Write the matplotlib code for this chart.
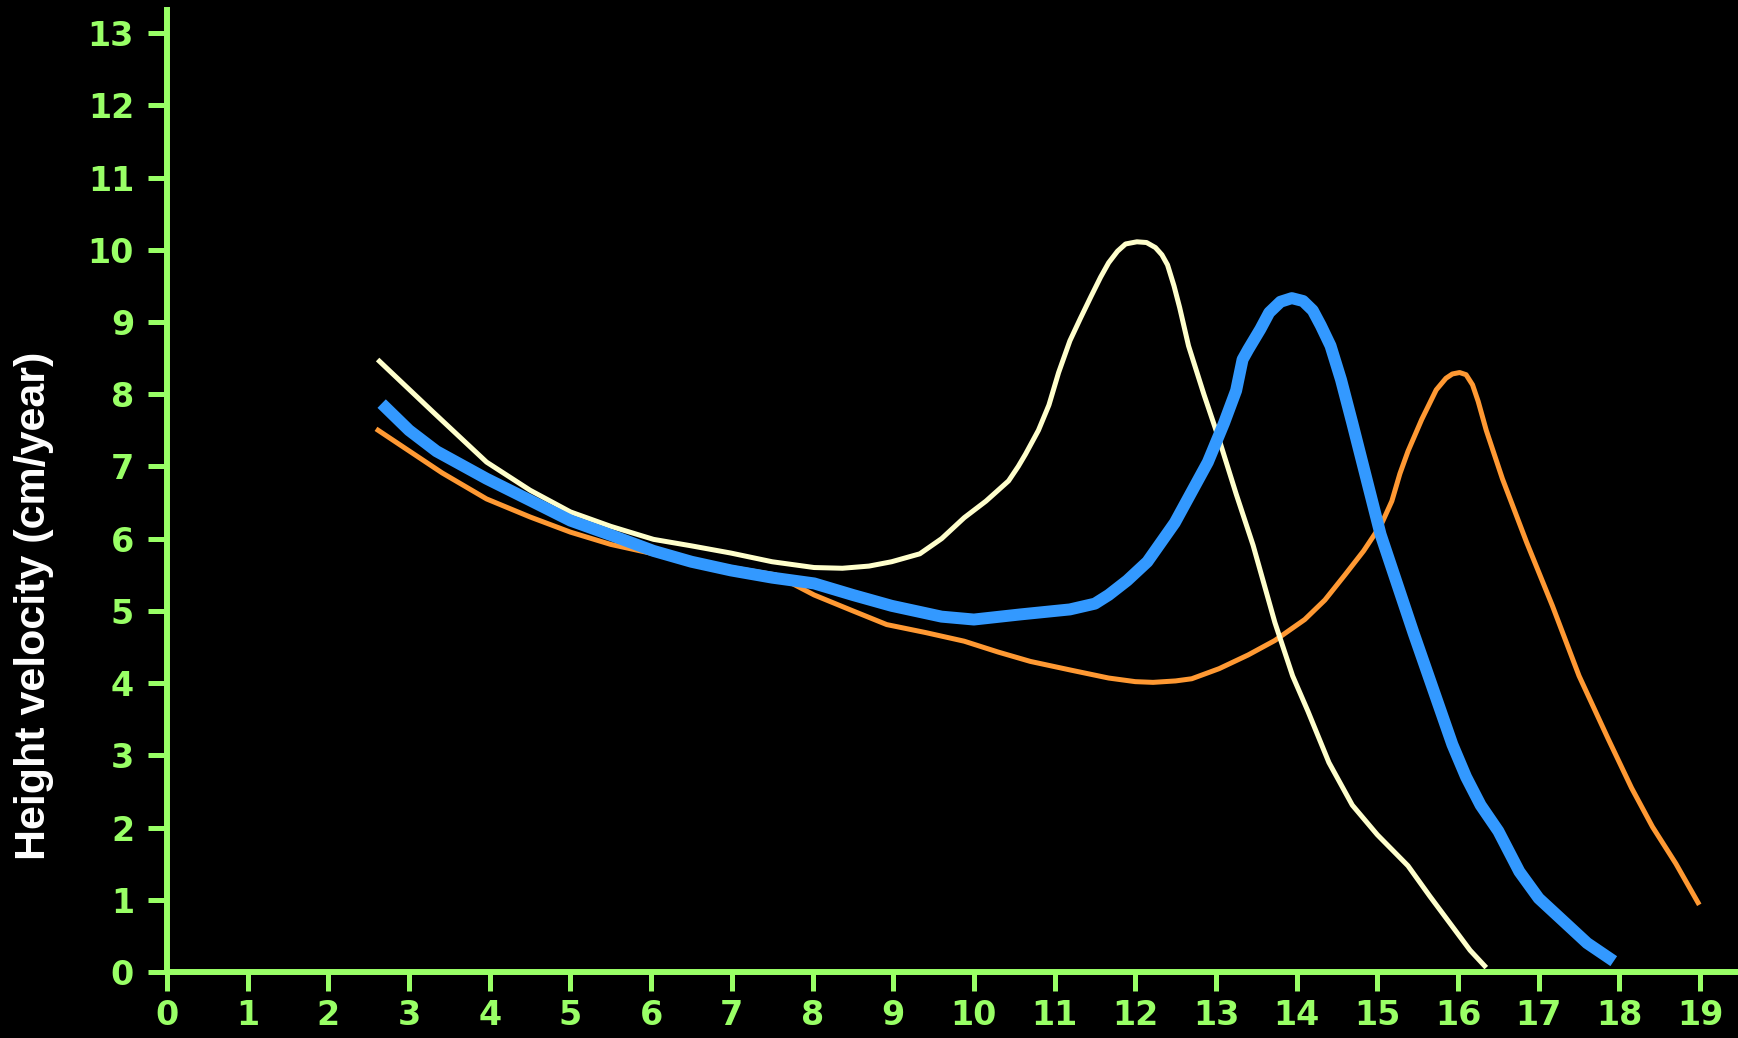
import matplotlib
matplotlib.use("Agg")
import matplotlib.pyplot as plt

# age (years) vs height velocity (cm/year)
cream_age = [2.61, 3.3, 3.96, 4.5, 5.0, 5.5, 6.03, 6.5, 6.99, 7.5, 8.02, 8.37, 8.7, 8.98, 9.33,
             9.6, 9.88, 10.15, 10.43, 10.55, 10.64, 10.8, 10.93, 11.05, 11.19, 11.32, 11.45, 11.57,
             11.67, 11.78, 11.88, 12.02, 12.14, 12.25, 12.33, 12.4, 12.48, 12.55, 12.66, 12.85,
             13.04, 13.25, 13.46, 13.73, 13.95, 14.14, 14.4, 14.69, 15.0, 15.38, 15.65, 15.93,
             16.15, 16.35]
cream_vel = [8.48, 7.75, 7.06, 6.67, 6.37, 6.17, 5.99, 5.9, 5.80, 5.68, 5.60, 5.59, 5.62, 5.68, 5.79,
             6.0, 6.29, 6.52, 6.80, 7.0, 7.17, 7.5, 7.85, 8.3, 8.74, 9.05, 9.35, 9.62,
             9.82, 9.98, 10.08, 10.11, 10.1, 10.03, 9.93, 9.79, 9.5, 9.2, 8.67, 8.0,
             7.37, 6.62, 5.91, 4.84, 4.1, 3.61, 2.9, 2.31, 1.9, 1.47, 1.05, 0.63,
             0.3, 0.06]

blue_age = [2.66, 3.0, 3.34, 3.96, 4.5, 5.0, 5.5, 6.03, 6.5, 6.99, 7.5, 8.02, 8.5, 8.98, 9.6, 10.0,
            10.57, 11.19, 11.5, 11.67, 11.9, 12.15, 12.49, 12.9, 13.1, 13.25, 13.33, 13.4, 13.55,
            13.66, 13.8, 13.94, 14.08, 14.2, 14.3, 14.42, 14.55, 14.69, 15.04, 15.45, 15.93,
            16.1, 16.28, 16.5, 16.76, 17.0, 17.31, 17.6, 17.93]
blue_vel = [7.87, 7.5, 7.21, 6.83, 6.53, 6.25, 6.05, 5.83, 5.68, 5.56, 5.46, 5.38, 5.22, 5.07, 4.92, 4.88,
            4.95, 5.02, 5.1, 5.22, 5.42, 5.68, 6.22, 7.06, 7.6, 8.05, 8.48, 8.62, 8.9,
            9.13, 9.28, 9.33, 9.29, 9.16, 8.95, 8.67, 8.2, 7.6, 6.06, 4.69, 3.15,
            2.7, 2.31, 1.95, 1.39, 1.02, 0.70, 0.4, 0.15]

orange_age = [2.59, 3.41, 3.96, 4.5, 5.0, 5.5, 6.03, 6.5, 6.99, 7.54, 8.02, 8.5, 8.92, 9.4, 9.88,
              10.3, 10.7, 11.2, 11.67, 12.0, 12.22, 12.5, 12.7, 13.04, 13.4, 13.73, 14.1, 14.35,
              14.6, 14.83, 15.05, 15.18, 15.28, 15.38, 15.55, 15.73, 15.85, 15.93, 16.02, 16.1,
              16.18, 16.25, 16.35, 16.55, 16.85, 17.17, 17.5, 17.86, 18.15, 18.41, 18.7, 18.99]
orange_vel = [7.52, 6.91, 6.55, 6.3, 6.09, 5.92, 5.79, 5.7, 5.60, 5.50, 5.22, 5.0, 4.81, 4.7, 4.58,
              4.43, 4.30, 4.18, 4.07, 4.02, 4.01, 4.03, 4.06, 4.20, 4.39, 4.59, 4.88, 5.15,
              5.5, 5.83, 6.2, 6.52, 6.9, 7.21, 7.65, 8.06, 8.22, 8.28, 8.30, 8.27,
              8.13, 7.9, 7.5, 6.83, 5.95, 5.07, 4.1, 3.23, 2.55, 2.01, 1.5, 0.93]

x_ticks = list(range(0, 20))
y_ticks = list(range(0, 14))

green = "#99FF66"

fig = plt.figure(figsize=(17.38, 10.38), dpi=100, facecolor="black")
ax = fig.add_axes([0.0961, 0.0636, 0.9039, 0.9268], facecolor="black")

ax.plot(orange_age, orange_vel, color="#FF9933", lw=3.6, solid_capstyle="butt", solid_joinstyle="round")
ax.plot(cream_age, cream_vel, color="#FFFFCC", lw=3.6, solid_capstyle="butt", solid_joinstyle="round")
ax.plot(blue_age, blue_vel, color="#3399FF", lw=8.6, solid_capstyle="butt", solid_joinstyle="round")

ax.set_xlim(0, 19.47)
ax.set_ylim(0, 13.32)
ax.set_xticks(x_ticks)
ax.set_yticks(y_ticks)

for pos in ['top', 'right']:
    ax.spines[pos].set_visible(False)
for pos in ['left', 'bottom']:
    ax.spines[pos].set_color(green)
    ax.spines[pos].set_linewidth(4.3)

ax.tick_params(axis='both', colors=green, length=13.7, width=3.6, labelsize=24)
ax.tick_params(axis='y', pad=10)
ax.tick_params(axis='x', pad=6)
for lab in ax.get_xticklabels() + ax.get_yticklabels():
    lab.set_fontweight('heavy')
    lab.set_family('DejaVu Sans')

fig.text(0.0196, 0.416, "Height velocity (cm/year)", color="white", fontsize=31,
         fontweight="bold", family="Liberation Sans", rotation=90, ha="center", va="center")

fig.savefig("out.png", dpi=100, facecolor="black")
